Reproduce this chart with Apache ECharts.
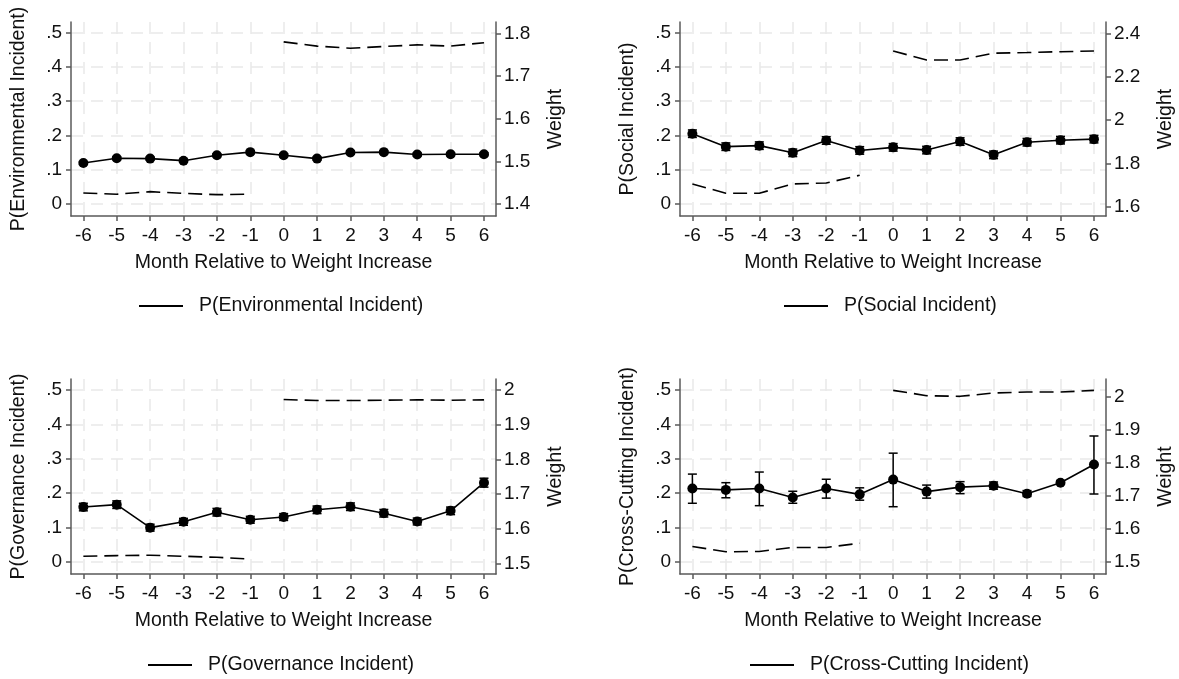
<!DOCTYPE html>
<html><head><meta charset="utf-8">
<script src="https://cdn.jsdelivr.net/npm/echarts@6/dist/echarts.min.js"></script>
<style>html,body{margin:0;padding:0;background:#fff}#c{width:1179px;height:679px}</style>
</head><body><div id="c"></div>
<script>
// ---------- data ----------
const months = [-6,-5,-4,-3,-2,-1,0,1,2,3,4,5,6];
const preMonths = [-6,-5,-4,-3,-2,-1];
const postMonths = [0,1,2,3,4,5,6];
const probTicks = [0,0.1,0.2,0.3,0.4,0.5];

const envTitle = 'P(Environmental Incident)';
const envProb = [0.119,0.133,0.132,0.126,0.142,0.151,0.142,0.132,0.150,0.151,0.144,0.145,0.145];
const envLo   = [0.115,0.129,0.128,0.122,0.138,0.147,0.138,0.128,0.146,0.147,0.140,0.141,0.141];
const envHi   = [0.123,0.137,0.136,0.130,0.146,0.155,0.146,0.136,0.154,0.155,0.148,0.149,0.149];
const envWPre  = [1.426,1.423,1.429,1.425,1.422,1.423];
const envWPost = [1.780,1.770,1.765,1.769,1.773,1.770,1.778];
const envWTicks = [1.4,1.5,1.6,1.7,1.8];

const socTitle = 'P(Social Incident)';
const socProb = [0.205,0.167,0.170,0.149,0.185,0.156,0.165,0.157,0.182,0.143,0.180,0.186,0.189];
const socLo   = [0.194,0.156,0.159,0.138,0.174,0.145,0.154,0.146,0.171,0.132,0.169,0.175,0.178];
const socHi   = [0.216,0.178,0.181,0.160,0.196,0.167,0.176,0.168,0.193,0.154,0.191,0.197,0.200];
const socWPre  = [1.705,1.662,1.662,1.705,1.709,1.745];
const socWPost = [2.318,2.277,2.277,2.308,2.311,2.315,2.318];
const socWTicks = [1.6,1.8,2.0,2.2,2.4];

const govTitle = 'P(Governance Incident)';
const govProb = [0.159,0.166,0.099,0.116,0.144,0.122,0.130,0.151,0.160,0.141,0.117,0.148,0.230];
const govLo   = [0.148,0.155,0.089,0.106,0.133,0.112,0.120,0.140,0.149,0.130,0.107,0.137,0.217];
const govHi   = [0.170,0.177,0.109,0.126,0.155,0.132,0.140,0.162,0.171,0.152,0.127,0.159,0.243];
const govWPre  = [1.521,1.523,1.524,1.521,1.518,1.513];
const govWPost = [1.972,1.969,1.969,1.970,1.971,1.970,1.971];
const govWTicks = [1.5,1.6,1.7,1.8,1.9,2.0];

const crsTitle = 'P(Cross-Cutting Incident)';
const crsProb = [0.213,0.209,0.213,0.187,0.213,0.196,0.239,0.204,0.217,0.221,0.198,0.230,0.283];
const crsLo   = [0.170,0.186,0.163,0.170,0.185,0.179,0.160,0.185,0.198,0.211,0.190,0.225,0.197];
const crsHi   = [0.255,0.230,0.261,0.205,0.240,0.215,0.316,0.223,0.233,0.232,0.207,0.235,0.366];
const crsWPre  = [1.547,1.531,1.532,1.544,1.544,1.557];
const crsWPost = [2.020,2.004,2.002,2.012,2.015,2.015,2.020];
const crsWTicks = [1.5,1.6,1.7,1.8,1.9,2.0];

const xTitle = 'Month Relative to Weight Increase';
const weightTitle = 'Weight';

// ---------- layout ----------
const FONT = 'Liberation Sans, Arial, sans-serif';
const TXT = '#111';
const AX = '#5a5a5a';
const GRIDC = '#e9e9e9';

const panels = [
  {title: envTitle, p: envProb, lo: envLo, hi: envHi, wPre: envWPre, wPost: envWPost, wTicks: envWTicks, wMin: 1.372, wMax: 1.8265,
   grid: {left: 71, top: 22, width: 425, height: 194}, leg: {left: 139, top: 296}},
  {title: socTitle, p: socProb, lo: socLo, hi: socHi, wPre: socWPre, wPost: socWPost, wTicks: socWTicks, wMin: 1.557, wMax: 2.452,
   grid: {left: 680, top: 22, width: 426, height: 194}, leg: {left: 784, top: 296}},
  {title: govTitle, p: govProb, lo: govLo, hi: govHi, wPre: govWPre, wPost: govWPost, wTicks: govWTicks, wMin: 1.470, wMax: 2.031,
   grid: {left: 71, top: 379, width: 425, height: 195}, leg: {left: 148, top: 655}},
  {title: crsTitle, p: crsProb, lo: crsLo, hi: crsHi, wPre: crsWPre, wPost: crsWPost, wTicks: crsWTicks, wMin: 1.4636, wMax: 2.0545,
   grid: {left: 680, top: 379, width: 426, height: 195}, leg: {left: 750, top: 655}}
];

const axisLine = {show: true, onZero: false, lineStyle: {color: AX, width: 1.5}};
const axisTickBase = {show: true, length: 5, lineStyle: {color: AX, width: 1.5}};
const splitLine = {show: true, lineStyle: {color: GRIDC, width: 1.5, type: [12, 8]}};
const labelStyle = {fontFamily: FONT, fontSize: 19, color: TXT};
const nameStyle = {fontFamily: FONT, fontSize: 19.5, color: TXT};

const grids = [], xAxes = [], yAxes = [], series = [], legends = [];

function errRender(params, api) {
  const x = api.value(0);
  const a = api.coord([x, api.value(1)]);
  const b = api.coord([x, api.value(2)]);
  const w = 4.5;
  const st = {stroke: '#000', lineWidth: 1.5};
  return {type: 'group', children: [
    {type: 'line', shape: {x1: a[0], y1: a[1], x2: b[0], y2: b[1]}, style: st},
    {type: 'line', shape: {x1: a[0] - w, y1: a[1], x2: a[0] + w, y2: a[1]}, style: st},
    {type: 'line', shape: {x1: b[0] - w, y1: b[1], x2: b[0] + w, y2: b[1]}, style: st}
  ]};
}

panels.forEach((pn, i) => {
  grids.push(pn.grid);
  xAxes.push({
    type: 'value', gridIndex: i, min: -6.37, max: 6.36,
    axisLine: axisLine,
    axisTick: Object.assign({customValues: months}, axisTickBase),
    axisLabel: {customValues: months, margin: 10, ...labelStyle},
    splitLine: splitLine,
    name: xTitle, nameLocation: 'middle', nameGap: 37, nameTextStyle: nameStyle
  });
  yAxes.push({
    type: 'value', gridIndex: i, position: 'left', min: -0.036, max: 0.532,
    axisLine: axisLine,
    axisTick: Object.assign({customValues: probTicks}, axisTickBase),
    axisLabel: {customValues: probTicks, margin: 9, ...labelStyle,
      formatter: v => (Math.abs(v) < 1e-9 ? '0' : '.' + Math.round(v * 10))},
    splitLine: splitLine,
    name: pn.title, nameLocation: 'middle', nameRotate: 90, nameGap: 42, nameTextStyle: nameStyle
  });
  yAxes.push({
    type: 'value', gridIndex: i, position: 'right', min: pn.wMin, max: pn.wMax,
    axisLine: axisLine,
    axisTick: Object.assign({customValues: pn.wTicks}, axisTickBase),
    axisLabel: {customValues: pn.wTicks, margin: 8, ...labelStyle,
      formatter: v => String(+(+v).toFixed(1))},
    splitLine: {show: false},
    name: weightTitle, nameLocation: 'middle', nameRotate: 90, nameGap: 50, nameTextStyle: nameStyle
  });
  const yL = 2 * i, yR = 2 * i + 1;
  series.push({
    type: 'custom', name: 'ci' + i, xAxisIndex: i, yAxisIndex: yL,
    renderItem: errRender, encode: {x: 0, y: [1, 2]}, z: 3,
    data: months.map((m, k) => [m, pn.lo[k], pn.hi[k]])
  });
  series.push({
    type: 'line', name: pn.title, xAxisIndex: i, yAxisIndex: yL,
    data: months.map((m, k) => [m, pn.p[k]]),
    symbol: 'circle', symbolSize: 10, color: '#000',
    itemStyle: {color: '#000'}, lineStyle: {color: '#000', width: 1.6}, z: 4
  });
  series.push({
    type: 'line', name: 'wpre' + i, xAxisIndex: i, yAxisIndex: yR,
    data: preMonths.map((m, k) => [m, pn.wPre[k]]), showSymbol: false, symbol: 'none',
    lineStyle: {color: '#000', width: 1.6, type: [14, 7]}, z: 2
  });
  series.push({
    type: 'line', name: 'wpost' + i, xAxisIndex: i, yAxisIndex: yR,
    data: postMonths.map((m, k) => [m, pn.wPost[k]]), showSymbol: false, symbol: 'none',
    lineStyle: {color: '#000', width: 1.6, type: [14, 7]}, z: 2
  });
  legends.push({
    data: [{name: pn.title, icon: 'rect'}], left: pn.leg.left, top: pn.leg.top,
    padding: 0, itemWidth: 44, itemHeight: 2, selectedMode: false,
    textStyle: {fontFamily: FONT, fontSize: 19.5, color: TXT, padding: [0, 0, 0, 11]}
  });
});

const chart = echarts.init(document.getElementById('c'), null, {renderer: 'canvas'});
chart.setOption({
  backgroundColor: '#fff', animation: false,
  grid: grids, xAxis: xAxes, yAxis: yAxes, series: series, legend: legends
});
</script></body></html>
